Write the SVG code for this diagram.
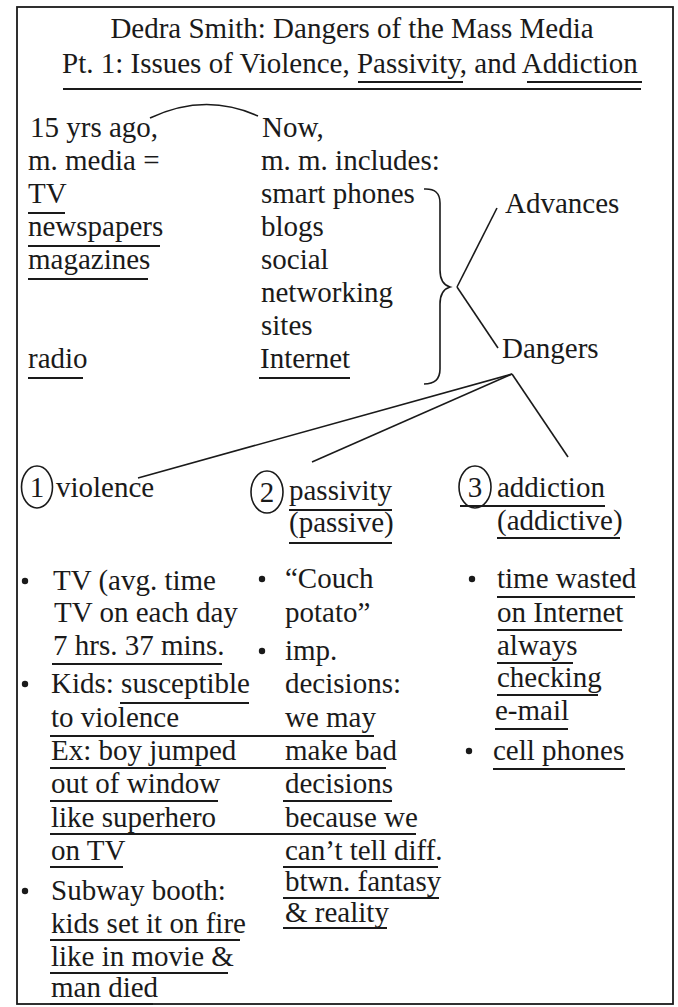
<svg xmlns="http://www.w3.org/2000/svg" width="678" height="1007" viewBox="0 0 678 1007">
<style>
.t{font-family:"Liberation Serif","Times New Roman",serif;font-size:29px;fill:#1a1a1a}
.u{stroke:#1a1a1a;stroke-width:2;fill:none}
.c{stroke:#1a1a1a;stroke-width:1.6;fill:none}
.b{fill:#1a1a1a}
</style>
<rect x="17" y="7" width="656" height="997" fill="#fff" stroke="#1a1a1a" stroke-width="1.8"/>
<g id="title">
<text class="t" x="352" y="38" text-anchor="middle">Dedra Smith: Dangers of the Mass Media</text>
<text class="t" x="62" y="73">Pt. 1: Issues of Violence, Passivity, and Addiction</text>
<line class="u" x1="358" y1="82" x2="463" y2="82"/>
<line class="u" x1="527" y1="82" x2="642" y2="82"/>
<line class="u" x1="63" y1="89" x2="641" y2="89"/>
</g>
<g id="connectors">
<path class="c" d="M150 118 Q205 92 258 116"/>
<path class="c" d="M424 189 Q440 188 440 203 L440 270 Q440 284 450 287 Q440 290 440 304 L440 369 Q440 384 424 384"/>
<line class="c" x1="457" y1="287" x2="497" y2="208"/>
<line class="c" x1="457" y1="287" x2="498" y2="348"/>
<line class="c" x1="512" y1="374" x2="138" y2="478"/>
<line class="c" x1="512" y1="374" x2="312" y2="462"/>
<line class="c" x1="512" y1="374" x2="568" y2="457"/>
</g>
<g id="past-media">
<text class="t" x="30" y="137">15 yrs ago,</text>
<text class="t" x="28" y="170">m. media =</text>
<text class="t" x="28" y="203">TV</text>
<text class="t" x="28" y="236">newspapers</text>
<text class="t" x="28" y="269">magazines</text>
<text class="t" x="28" y="368">radio</text>
<line class="u" x1="28" y1="213" x2="65" y2="213"/>
<line class="u" x1="28" y1="246" x2="160" y2="246"/>
<line class="u" x1="28" y1="279" x2="148" y2="279"/>
<line class="u" x1="28" y1="378" x2="83" y2="378"/>
</g>
<g id="now-media">
<text class="t" x="262" y="137">Now,</text>
<text class="t" x="261" y="170">m. m. includes:</text>
<text class="t" x="261" y="203">smart phones</text>
<text class="t" x="261" y="236">blogs</text>
<text class="t" x="261" y="269">social</text>
<text class="t" x="261" y="302">networking</text>
<text class="t" x="261" y="335">sites</text>
<text class="t" x="260" y="368">Internet</text>
<line class="u" x1="259" y1="378" x2="350" y2="378"/>
</g>
<g id="advances">
<text class="t" x="505" y="213">Advances</text>
</g>
<g id="dangers">
<text class="t" x="502" y="358">Dangers</text>
</g>
<g id="violence">
<ellipse class="c" cx="37" cy="487" rx="15.5" ry="21"/>
<text class="t" x="37" y="497" text-anchor="middle">1</text>
<text class="t" x="56" y="497">violence</text>
<circle class="b" cx="25" cy="581" r="3.2"/>
<text class="t" x="53" y="590">TV (avg. time</text>
<text class="t" x="54" y="622">TV on each day</text>
<text class="t" x="53" y="655">7 hrs. 37 mins.</text>
<line class="u" x1="52" y1="664" x2="222" y2="664"/>
<circle class="b" cx="25" cy="684" r="3.2"/>
<text class="t" x="51" y="693">Kids: susceptible</text>
<line class="u" x1="120" y1="703" x2="249" y2="703"/>
<text class="t" x="51" y="727">to violence</text>
<line class="u" x1="50" y1="736" x2="374" y2="736"/>
<text class="t" x="51" y="760">Ex: boy jumped</text>
<line class="u" x1="50" y1="768" x2="386" y2="768"/>
<text class="t" x="51" y="793">out of window</text>
<line class="u" x1="50" y1="801" x2="218" y2="801"/>
<text class="t" x="51" y="827">like superhero</text>
<line class="u" x1="50" y1="834" x2="416" y2="834"/>
<text class="t" x="51" y="860">on TV</text>
<line class="u" x1="50" y1="867" x2="123" y2="867"/>
<circle class="b" cx="25" cy="891" r="3.2"/>
<text class="t" x="51" y="900">Subway booth:</text>
<text class="t" x="51" y="933">kids set it on fire</text>
<line class="u" x1="50" y1="940" x2="240" y2="940"/>
<text class="t" x="51" y="966">like in movie &amp;</text>
<line class="u" x1="50" y1="973" x2="228" y2="973"/>
<text class="t" x="51" y="997">man died</text>
<line class="u" x1="50" y1="1004" x2="153" y2="1004"/>
</g>
<g id="passivity">
<ellipse class="c" cx="267" cy="492" rx="16" ry="21"/>
<text class="t" x="267" y="502" text-anchor="middle">2</text>
<text class="t" x="289" y="500">passivity</text>
<line class="u" x1="289" y1="510" x2="392" y2="510"/>
<text class="t" x="289" y="532">(passive)</text>
<line class="u" x1="289" y1="543" x2="392" y2="543"/>
<circle class="b" cx="262" cy="579" r="3.2"/>
<text class="t" x="285" y="588">“Couch</text>
<text class="t" x="285" y="622">potato”</text>
<circle class="b" cx="262" cy="651" r="3.2"/>
<text class="t" x="285" y="660">imp.</text>
<text class="t" x="285" y="693">decisions:</text>
<text class="t" x="285" y="727">we may</text>
<text class="t" x="285" y="760">make bad</text>
<text class="t" x="285" y="793">decisions</text>
<line class="u" x1="283" y1="801" x2="392" y2="801"/>
<text class="t" x="285" y="827">because we</text>
<text class="t" x="285" y="860">can’t tell diff.</text>
<line class="u" x1="283" y1="867" x2="438" y2="867"/>
<text class="t" x="285" y="891">btwn. fantasy</text>
<line class="u" x1="283" y1="898" x2="439" y2="898"/>
<text class="t" x="285" y="922">&amp; reality</text>
<line class="u" x1="283" y1="928" x2="387" y2="928"/>
</g>
<g id="addiction">
<ellipse class="c" cx="475" cy="487" rx="16" ry="21"/>
<text class="t" x="475" y="497" text-anchor="middle">3</text>
<text class="t" x="497" y="497">addiction</text>
<line class="u" x1="460" y1="506" x2="605" y2="506"/>
<text class="t" x="497" y="530">(addictive)</text>
<line class="u" x1="497" y1="538" x2="620" y2="538"/>
<circle class="b" cx="472" cy="579" r="3.2"/>
<text class="t" x="497" y="588">time wasted</text>
<line class="u" x1="497" y1="597" x2="635" y2="597"/>
<text class="t" x="497" y="622">on Internet</text>
<line class="u" x1="497" y1="630" x2="622" y2="630"/>
<text class="t" x="497" y="655">always</text>
<line class="u" x1="497" y1="663" x2="573" y2="663"/>
<text class="t" x="497" y="687">checking</text>
<line class="u" x1="497" y1="695" x2="598" y2="695"/>
<text class="t" x="495" y="720">e-mail</text>
<line class="u" x1="495" y1="729" x2="568" y2="729"/>
<circle class="b" cx="469" cy="751" r="3.2"/>
<text class="t" x="493" y="760">cell phones</text>
<line class="u" x1="493" y1="769" x2="625" y2="769"/>
</g>
</svg>
